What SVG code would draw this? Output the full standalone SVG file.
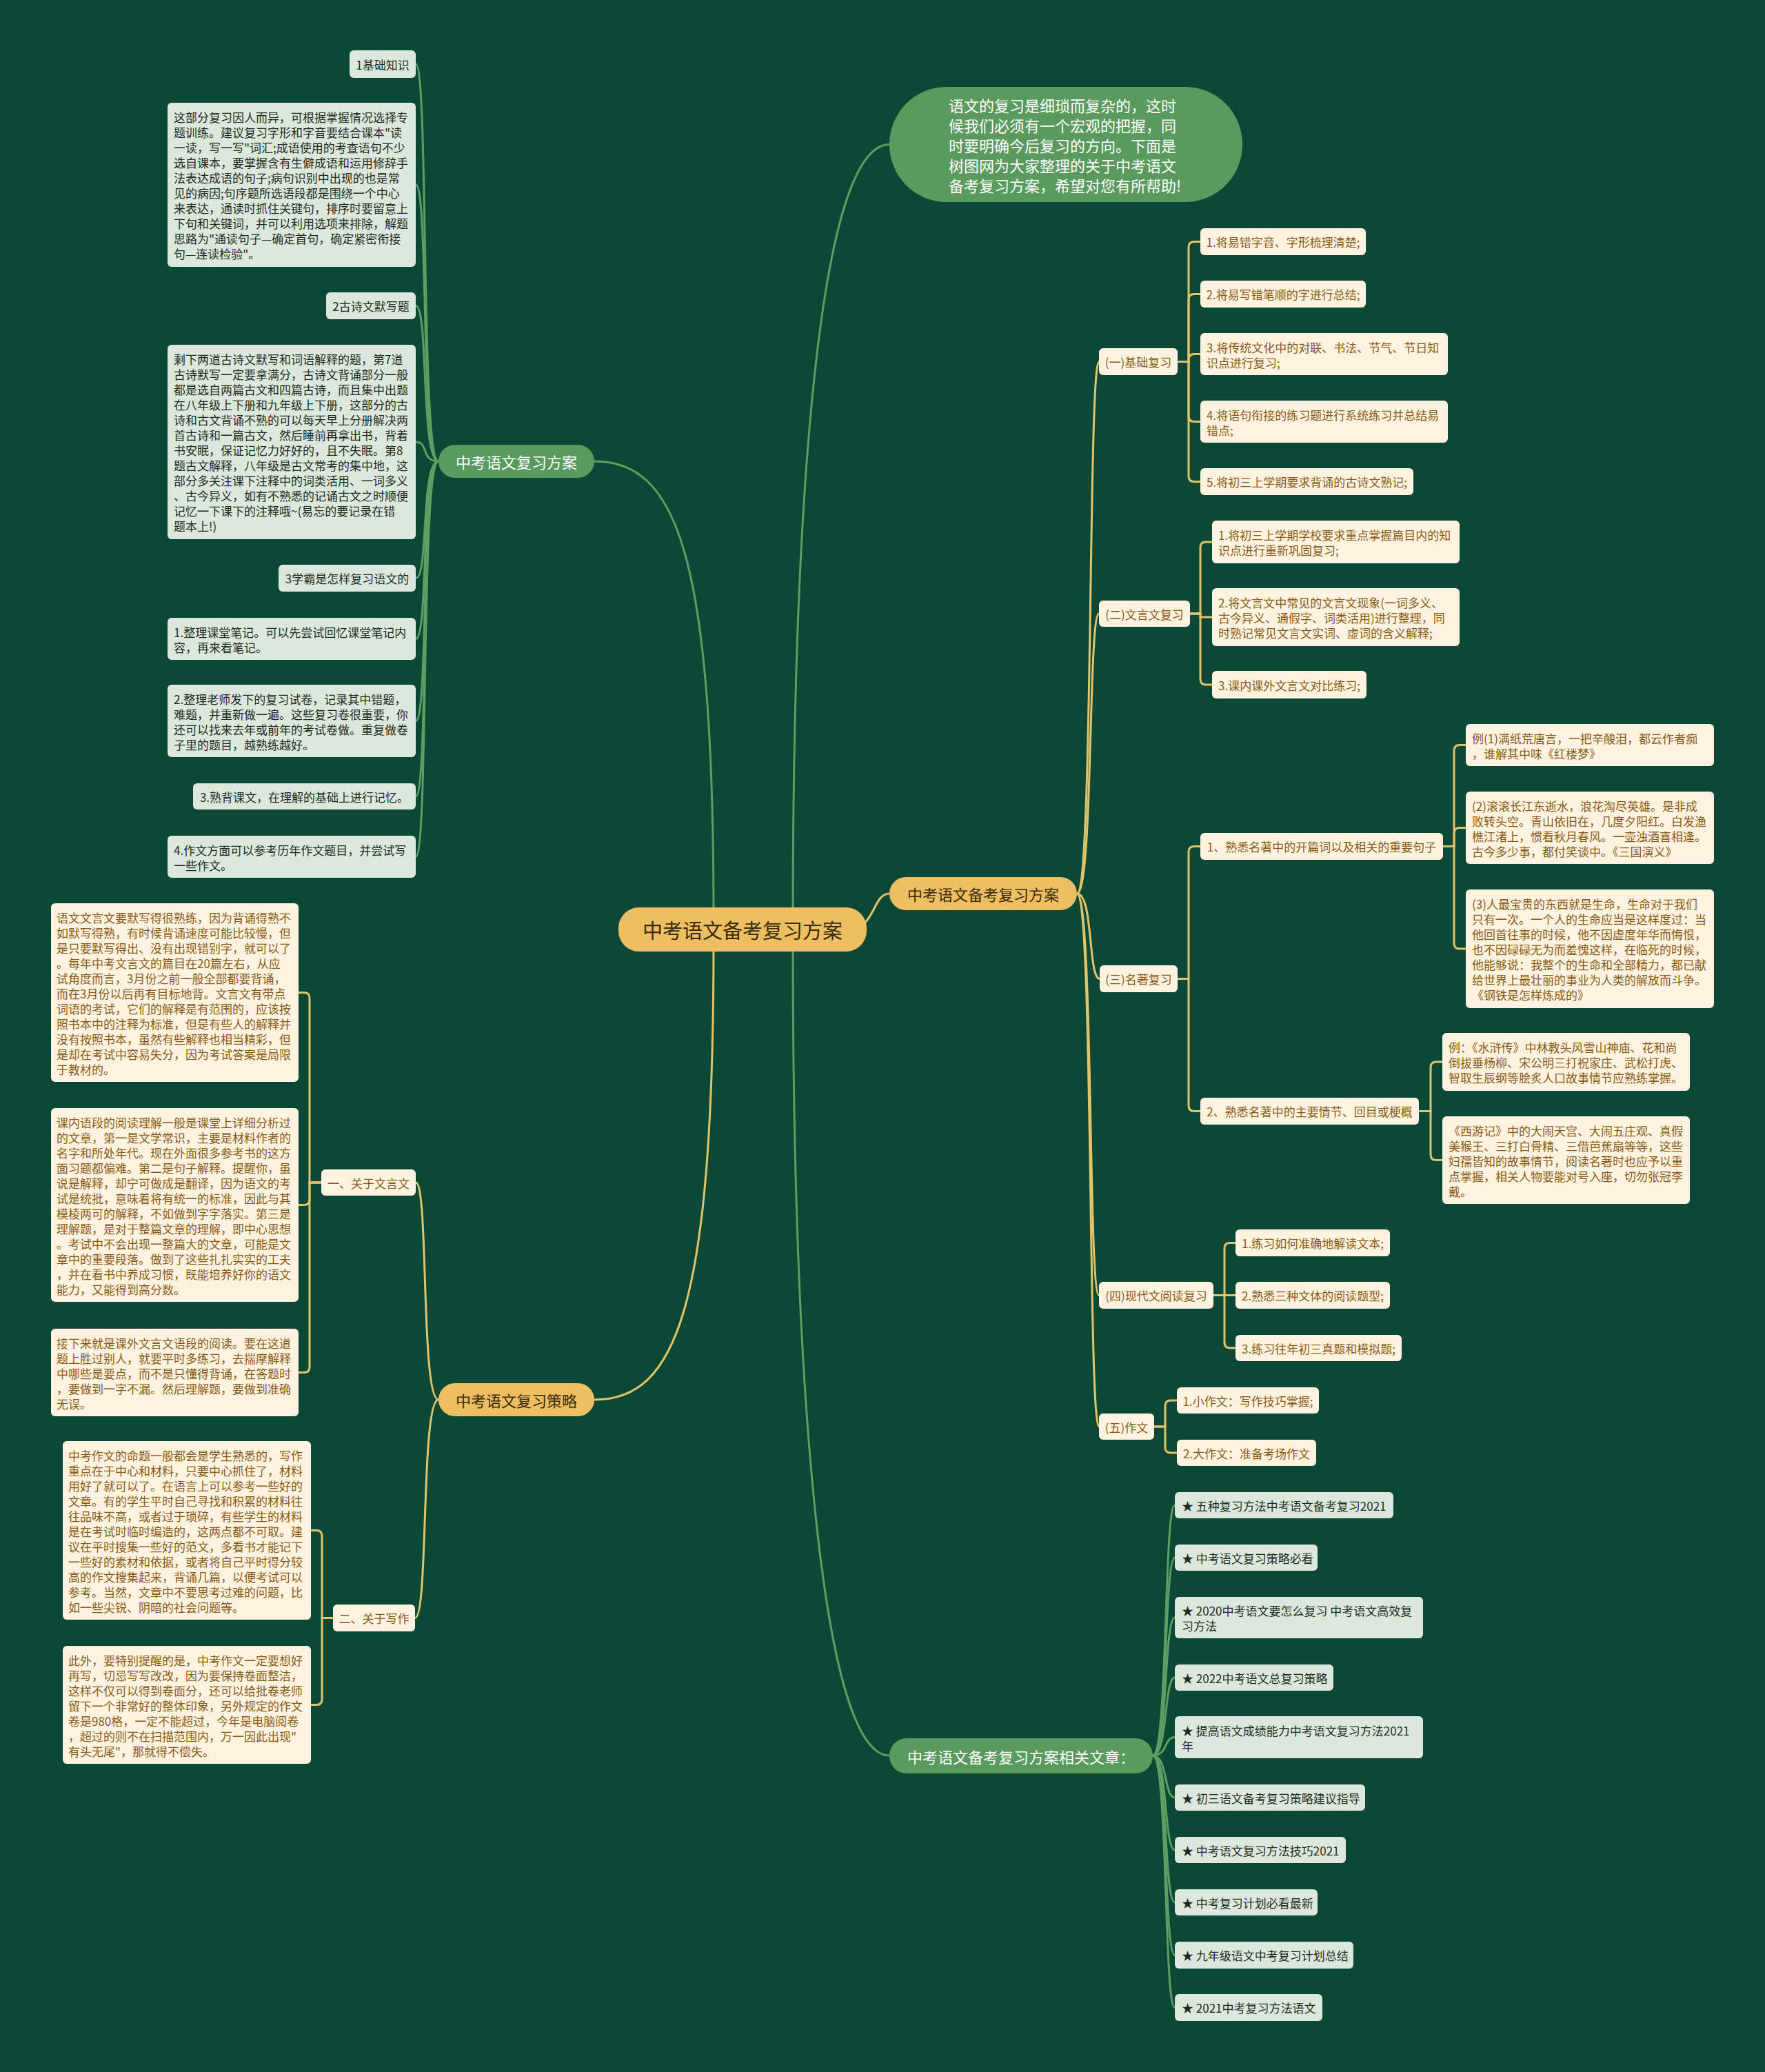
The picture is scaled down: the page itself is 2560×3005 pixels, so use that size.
<svg xmlns="http://www.w3.org/2000/svg" width="2560" height="3005" viewBox="0 0 2560 3005">
<style>
text,tspan{font-family:'Noto Sans CJK SC','Noto Sans',sans-serif;dominant-baseline:central}
.lg{fill:#DCE8DC}
.cr{fill:#FDF3E0}
.tl{font-size:17px;fill:#1E2B23}
.tc{font-size:17px;fill:#8A5A14}
.m{text-anchor:middle}
.cg{stroke:#5E9E62;stroke-width:3;fill:none}
.cy{stroke:#E2C36A;stroke-width:3;fill:none}
.gp{fill:#5A9A5E}
.yp{fill:#EDBE62}
.tw{font-size:22px;fill:#FFFFFF}
.tb{font-size:22px;fill:#3A2A08}
</style>
<rect x="0" y="0" width="2560" height="3005" fill="#0B4936"/>

<g id="connectors">
  <!-- root to branches -->
  <path class="cg" d="M1035,1330 C1035,800 980,669 862,669"/>
  <path class="cy" d="M1035,1366 C1035,1900 980,2030 862,2030"/>
  <path class="cg" d="M1150,1340 C1150,700 1190,209.5 1290,209.5"/>
  <path class="cy" d="M1230,1348 C1270,1348 1265,1296 1290,1296"/>
  <path class="cg" d="M1150,1366 C1150,2000 1190,2546 1290,2546"/>
  <!-- left green branch -->
  <path class="cg" d="M636,669 C610,669 622,93 603,93"/>
  <path class="cg" d="M636,669 C610,669 622,268 603,268"/>
  <path class="cg" d="M636,669 C610,669 622,443.5 603,443.5"/>
  <path class="cg" d="M636,669 C610,669 622,641 603,641"/>
  <path class="cg" d="M636,669 C610,669 622,838.5 603,838.5"/>
  <path class="cg" d="M636,669 C610,669 622,926.5 603,926.5"/>
  <path class="cg" d="M636,669 C610,669 622,1045.5 603,1045.5"/>
  <path class="cg" d="M636,669 C610,669 622,1155 603,1155"/>
  <path class="cg" d="M636,669 C610,669 622,1242.5 603,1242.5"/>
  <!-- left gold branch -->
  <path class="cy" d="M636,2030 C610,2030 622,1715 603,1715"/>
  <path class="cy" d="M636,2030 C610,2030 622,2346.5 602,2346.5"/>
  <path class="cy" d="M466,1715 H449 V1447.5 Q449,1439.5 441,1439.5 H433"/>
  <path class="cy" d="M466,1715 H449 V1739.5 Q449,1747.5 441,1747.5 H433"/>
  <path class="cy" d="M466,1715 H449 V1982.5 Q449,1990.5 441,1990.5 H433"/>
  <path class="cy" d="M483,2346.5 H467 V2227.5 Q467,2219.5 459,2219.5 H451"/>
  <path class="cy" d="M483,2346.5 H467 V2464.5 Q467,2472.5 459,2472.5 H451"/>
  <!-- right gold branch -->
  <path class="cy" d="M1562,1296 C1586,1296 1578,524.5 1594,524.5"/>
  <path class="cy" d="M1562,1296 C1586,1296 1578,890 1594,890"/>
  <path class="cy" d="M1562,1296 C1586,1296 1578,1419.5 1595,1419.5"/>
  <path class="cy" d="M1562,1296 C1586,1296 1578,1878.5 1594,1878.5"/>
  <path class="cy" d="M1562,1296 C1586,1296 1578,2069 1594,2069"/>
  <path class="cy" d="M1708,524.5 H1724 V358.5 Q1724,350.5 1732,350.5 H1741"/>
  <path class="cy" d="M1708,524.5 H1724 V434.5 Q1724,426.5 1732,426.5 H1741"/>
  <path class="cy" d="M1708,524.5 H1724 V521.5 Q1724,513.5 1732,513.5 H1741"/>
  <path class="cy" d="M1708,524.5 H1724 V603.5 Q1724,611.5 1732,611.5 H1741"/>
  <path class="cy" d="M1708,524.5 H1724 V690.5 Q1724,698.5 1732,698.5 H1741"/>
  <path class="cy" d="M1726,890 H1741 V794 Q1741,786 1749,786 H1758"/>
  <path class="cy" d="M1726,890 H1741 V895 H1758"/>
  <path class="cy" d="M1726,890 H1741 V985 Q1741,993 1749,993 H1758"/>
  <path class="cy" d="M1708,1419.5 H1724 V1235.5 Q1724,1227.5 1732,1227.5 H1741"/>
  <path class="cy" d="M1708,1419.5 H1724 V1603.5 Q1724,1611.5 1732,1611.5 H1741"/>
  <path class="cy" d="M2093,1227.5 H2109 V1088.5 Q2109,1080.5 2117,1080.5 H2126"/>
  <path class="cy" d="M2093,1227.5 H2109 V1208.5 Q2109,1200.5 2117,1200.5 H2126"/>
  <path class="cy" d="M2093,1227.5 H2109 V1368 Q2109,1376 2117,1376 H2126"/>
  <path class="cy" d="M2058,1611.5 H2075 V1548 Q2075,1540 2083,1540 H2092"/>
  <path class="cy" d="M2058,1611.5 H2075 V1674.5 Q2075,1682.5 2083,1682.5 H2092"/>
  <path class="cy" d="M1760,1878.5 H1776 V1810.5 Q1776,1802.5 1784,1802.5 H1792"/>
  <path class="cy" d="M1760,1878.5 H1792"/>
  <path class="cy" d="M1760,1878.5 H1776 V1947 Q1776,1955 1784,1955 H1792"/>
  <path class="cy" d="M1674,2069 H1690 V2039 Q1690,2031 1698,2031 H1707"/>
  <path class="cy" d="M1674,2069 H1690 V2099 Q1690,2107 1698,2107 H1707"/>
  <!-- related articles -->
  <path class="cg" d="M1672,2546 C1694,2546 1688,2183 1704,2183"/>
  <path class="cg" d="M1672,2546 C1694,2546 1688,2259 1704,2259"/>
  <path class="cg" d="M1672,2546 C1694,2546 1688,2346 1704,2346"/>
  <path class="cg" d="M1672,2546 C1694,2546 1688,2433 1704,2433"/>
  <path class="cg" d="M1672,2546 C1694,2546 1688,2519.5 1704,2519.5"/>
  <path class="cg" d="M1672,2546 C1694,2546 1688,2607 1704,2607"/>
  <path class="cg" d="M1672,2546 C1694,2546 1688,2683 1704,2683"/>
  <path class="cg" d="M1672,2546 C1694,2546 1688,2759 1704,2759"/>
  <path class="cg" d="M1672,2546 C1694,2546 1688,2835.5 1704,2835.5"/>
  <path class="cg" d="M1672,2546 C1694,2546 1688,2911.5 1704,2911.5"/>
</g>

<g id="root">
  <rect class="yp" x="897" y="1316" width="360" height="64" rx="30"/>
  <text x="1077" y="1348" class="m" font-size="29" fill="#3A2A08">中考语文备考复习方案</text>
</g>

<g id="b-plan">
  <rect class="gp" x="636" y="645" width="226" height="48" rx="24"/>
  <text x="749" y="669" class="m tw">中考语文复习方案</text>
</g>
<g id="b-strategy">
  <rect class="yp" x="636" y="2006" width="226" height="48" rx="24"/>
  <text x="749" y="2030" class="m tb">中考语文复习策略</text>
</g>
<g id="b-intro">
  <rect class="gp" x="1290" y="126" width="512" height="167" rx="83"/>
  <text class="tw"><tspan x="1376" y="151.5">语文的复习是细琐而复杂的，这时</tspan><tspan x="1376" y="180.7">候我们必须有一个宏观的把握，同</tspan><tspan x="1376" y="209.9">时要明确今后复习的方向。下面是</tspan><tspan x="1376" y="239.1">树图网为大家整理的关于中考语文</tspan><tspan x="1376" y="268.3">备考复习方案，希望对您有所帮助!</tspan></text>
</g>
<g id="b-prep">
  <rect class="yp" x="1290" y="1272" width="272" height="48" rx="24"/>
  <text x="1426" y="1296" class="m tb">中考语文备考复习方案</text>
</g>
<g id="b-related">
  <rect class="gp" x="1290" y="2521" width="382" height="51" rx="25"/>
  <text x="1481" y="2546.5" class="m tw">中考语文备考复习方案相关文章：</text>
</g>

<!-- left green children -->
<g id="n1"><rect class="lg" x="507" y="73" width="96" height="40" rx="6"/><text x="555" y="93" class="m tl">1基础知识</text></g>
<g id="n2"><rect class="lg" x="243" y="149" width="360" height="238" rx="6"/><text class="tl"><tspan x="252" y="169">这部分复习因人而异，可根据掌握情况选择专</tspan><tspan x="252" y="191">题训练。建议复习字形和字音要结合课本"读</tspan><tspan x="252" y="213">一读，写一写"词汇;成语使用的考查语句不少</tspan><tspan x="252" y="235">选自课本，要掌握含有生僻成语和运用修辞手</tspan><tspan x="252" y="257">法表达成语的句子;病句识别中出现的也是常</tspan><tspan x="252" y="279">见的病因;句序题所选语段都是围绕一个中心</tspan><tspan x="252" y="301">来表达，通读时抓住关键句，排序时要留意上</tspan><tspan x="252" y="323">下句和关键词，并可以利用选项来排除，解题</tspan><tspan x="252" y="345">思路为"通读句子—确定首句，确定紧密衔接</tspan><tspan x="252" y="367">句—连读检验"。</tspan></text></g>
<g id="n3"><rect class="lg" x="473" y="424" width="130" height="39" rx="6"/><text x="538" y="443.5" class="m tl">2古诗文默写题</text></g>
<g id="n4"><rect class="lg" x="243" y="500" width="360" height="282" rx="6"/><text class="tl"><tspan x="252" y="520">剩下两道古诗文默写和词语解释的题，第7道</tspan><tspan x="252" y="542">古诗默写一定要拿满分，古诗文背诵部分一般</tspan><tspan x="252" y="564">都是选自两篇古文和四篇古诗，而且集中出题</tspan><tspan x="252" y="586">在八年级上下册和九年级上下册，这部分的古</tspan><tspan x="252" y="608">诗和古文背诵不熟的可以每天早上分册解决两</tspan><tspan x="252" y="630">首古诗和一篇古文，然后睡前再拿出书，背着</tspan><tspan x="252" y="652">书安眠，保证记忆力好好的，且不失眠。第8</tspan><tspan x="252" y="674">题古文解释，八年级是古文常考的集中地，这</tspan><tspan x="252" y="696">部分多关注课下注释中的词类活用、一词多义</tspan><tspan x="252" y="718">、古今异义，如有不熟悉的记诵古文之时顺便</tspan><tspan x="252" y="740">记忆一下课下的注释哦~(易忘的要记录在错</tspan><tspan x="252" y="762">题本上!)</tspan></text></g>
<g id="n5"><rect class="lg" x="404" y="819" width="199" height="39" rx="6"/><text x="503.5" y="838.5" class="m tl">3学霸是怎样复习语文的</text></g>
<g id="n6"><rect class="lg" x="243" y="896" width="360" height="61" rx="6"/><text class="tl"><tspan x="252" y="915.5">1.整理课堂笔记。可以先尝试回忆课堂笔记内</tspan><tspan x="252" y="937.5">容，再来看笔记。</tspan></text></g>
<g id="n7"><rect class="lg" x="243" y="993" width="360" height="105" rx="6"/><text class="tl"><tspan x="252" y="1012.5">2.整理老师发下的复习试卷，记录其中错题，</tspan><tspan x="252" y="1034.5">难题，并重新做一遍。这些复习卷很重要，你</tspan><tspan x="252" y="1056.5">还可以找来去年或前年的考试卷做。重复做卷</tspan><tspan x="252" y="1078.5">子里的题目，越熟练越好。</tspan></text></g>
<g id="n8"><rect class="lg" x="280" y="1136" width="323" height="38" rx="6"/><text x="441.5" y="1155" class="m tl">3.熟背课文，在理解的基础上进行记忆。</text></g>
<g id="n9"><rect class="lg" x="243" y="1212" width="360" height="61" rx="6"/><text class="tl"><tspan x="252" y="1231.5">4.作文方面可以参考历年作文题目，并尝试写</tspan><tspan x="252" y="1253.5">一些作文。</tspan></text></g>

<!-- left gold children -->
<g id="s1"><rect class="cr" x="466" y="1696" width="137" height="38" rx="6"/><text x="534.5" y="1715" class="m tc">一、关于文言文</text></g>
<g id="s2"><rect class="cr" x="483" y="2327" width="119" height="39" rx="6"/><text x="542.5" y="2346.5" class="m tc">二、关于写作</text></g>
<g id="sa"><rect class="cr" x="74" y="1310" width="359" height="259" rx="6"/><text class="tc"><tspan x="82" y="1329.5">语文文言文要默写得很熟练，因为背诵得熟不</tspan><tspan x="82" y="1351.5">如默写得熟，有时候背诵速度可能比较慢，但</tspan><tspan x="82" y="1373.5">是只要默写得出、没有出现错别字，就可以了</tspan><tspan x="82" y="1395.5">。每年中考文言文的篇目在20篇左右，从应</tspan><tspan x="82" y="1417.5">试角度而言，3月份之前一般全部都要背诵，</tspan><tspan x="82" y="1439.5">而在3月份以后再有目标地背。文言文有带点</tspan><tspan x="82" y="1461.5">词语的考试，它们的解释是有范围的，应该按</tspan><tspan x="82" y="1483.5">照书本中的注释为标准，但是有些人的解释并</tspan><tspan x="82" y="1505.5">没有按照书本，虽然有些解释也相当精彩，但</tspan><tspan x="82" y="1527.5">是却在考试中容易失分，因为考试答案是局限</tspan><tspan x="82" y="1549.5">于教材的。</tspan></text></g>
<g id="sb"><rect class="cr" x="74" y="1607" width="359" height="281" rx="6"/><text class="tc"><tspan x="82" y="1626.5">课内语段的阅读理解一般是课堂上详细分析过</tspan><tspan x="82" y="1648.5">的文章，第一是文学常识，主要是材料作者的</tspan><tspan x="82" y="1670.5">名字和所处年代。现在外面很多参考书的这方</tspan><tspan x="82" y="1692.5">面习题都偏难。第二是句子解释。提醒你，虽</tspan><tspan x="82" y="1714.5">说是解释，却宁可做成是翻译，因为语文的考</tspan><tspan x="82" y="1736.5">试是统批，意味着将有统一的标准，因此与其</tspan><tspan x="82" y="1758.5">模棱两可的解释，不如做到字字落实。第三是</tspan><tspan x="82" y="1780.5">理解题，是对于整篇文章的理解，即中心思想</tspan><tspan x="82" y="1802.5">。考试中不会出现一整篇大的文章，可能是文</tspan><tspan x="82" y="1824.5">章中的重要段落。做到了这些扎扎实实的工夫</tspan><tspan x="82" y="1846.5">，并在看书中养成习惯，既能培养好你的语文</tspan><tspan x="82" y="1868.5">能力，又能得到高分数。</tspan></text></g>
<g id="sc"><rect class="cr" x="74" y="1927" width="359" height="127" rx="6"/><text class="tc"><tspan x="82" y="1946.5">接下来就是课外文言文语段的阅读。要在这道</tspan><tspan x="82" y="1968.5">题上胜过别人，就要平时多练习，去揣摩解释</tspan><tspan x="82" y="1990.5">中哪些是要点，而不是只懂得背诵，在答题时</tspan><tspan x="82" y="2012.5">，要做到一字不漏。然后理解题，要做到准确</tspan><tspan x="82" y="2034.5">无误。</tspan></text></g>
<g id="sd"><rect class="cr" x="91" y="2090" width="360" height="259" rx="6"/><text class="tc"><tspan x="99" y="2109.5">中考作文的命题一般都会是学生熟悉的，写作</tspan><tspan x="99" y="2131.5">重点在于中心和材料，只要中心抓住了，材料</tspan><tspan x="99" y="2153.5">用好了就可以了。在语言上可以参考一些好的</tspan><tspan x="99" y="2175.5">文章。有的学生平时自己寻找和积累的材料往</tspan><tspan x="99" y="2197.5">往品味不高，或者过于琐碎，有些学生的材料</tspan><tspan x="99" y="2219.5">是在考试时临时编造的，这两点都不可取。建</tspan><tspan x="99" y="2241.5">议在平时搜集一些好的范文，多看书才能记下</tspan><tspan x="99" y="2263.5">一些好的素材和依据，或者将自己平时得分较</tspan><tspan x="99" y="2285.5">高的作文搜集起来，背诵几篇，以便考试可以</tspan><tspan x="99" y="2307.5">参考。当然，文章中不要思考过难的问题，比</tspan><tspan x="99" y="2329.5">如一些尖锐、阴暗的社会问题等。</tspan></text></g>
<g id="se"><rect class="cr" x="91" y="2387" width="360" height="171" rx="6"/><text class="tc"><tspan x="99" y="2406.5">此外，要特别提醒的是，中考作文一定要想好</tspan><tspan x="99" y="2428.5">再写，切忌写写改改，因为要保持卷面整洁，</tspan><tspan x="99" y="2450.5">这样不仅可以得到卷面分，还可以给批卷老师</tspan><tspan x="99" y="2472.5">留下一个非常好的整体印象，另外规定的作文</tspan><tspan x="99" y="2494.5">卷是980格，一定不能超过，今年是电脑阅卷</tspan><tspan x="99" y="2516.5">，超过的则不在扫描范围内，万一因此出现"</tspan><tspan x="99" y="2538.5">有头无尾"，那就得不偿失。</tspan></text></g>

<!-- right gold children -->
<g id="p1"><rect class="cr" x="1594" y="505" width="114" height="39" rx="6"/><text x="1651" y="524.5" class="m tc">(一)基础复习</text></g>
<g id="p2"><rect class="cr" x="1594" y="871" width="132" height="38" rx="6"/><text x="1660" y="890" class="m tc">(二)文言文复习</text></g>
<g id="p3"><rect class="cr" x="1595" y="1400" width="113" height="39" rx="6"/><text x="1651.5" y="1419.5" class="m tc">(三)名著复习</text></g>
<g id="p4"><rect class="cr" x="1594" y="1859" width="166" height="39" rx="6"/><text x="1677" y="1878.5" class="m tc">(四)现代文阅读复习</text></g>
<g id="p5"><rect class="cr" x="1594" y="2050" width="80" height="38" rx="6"/><text x="1634" y="2069" class="m tc">(五)作文</text></g>

<g id="c1"><rect class="cr" x="1741" y="331" width="240" height="39" rx="6"/><text x="1861" y="350.5" class="m tc">1.将易错字音、字形梳理清楚;</text></g>
<g id="c2"><rect class="cr" x="1741" y="407" width="240" height="39" rx="6"/><text x="1861" y="426.5" class="m tc">2.将易写错笔顺的字进行总结;</text></g>
<g id="c3"><rect class="cr" x="1741" y="483" width="359" height="61" rx="6"/><text class="tc"><tspan x="1750" y="502.5">3.将传统文化中的对联、书法、节气、节日知</tspan><tspan x="1750" y="524.5">识点进行复习;</tspan></text></g>
<g id="c4"><rect class="cr" x="1741" y="581" width="359" height="61" rx="6"/><text class="tc"><tspan x="1750" y="600.5">4.将语句衔接的练习题进行系统练习并总结易</tspan><tspan x="1750" y="622.5">错点;</tspan></text></g>
<g id="c5"><rect class="cr" x="1741" y="679" width="309" height="39" rx="6"/><text x="1895.5" y="698.5" class="m tc">5.将初三上学期要求背诵的古诗文熟记;</text></g>

<g id="d1"><rect class="cr" x="1758" y="755" width="359" height="62" rx="6"/><text class="tc"><tspan x="1767" y="775">1.将初三上学期学校要求重点掌握篇目内的知</tspan><tspan x="1767" y="797">识点进行重新巩固复习;</tspan></text></g>
<g id="d2"><rect class="cr" x="1758" y="853" width="359" height="84" rx="6"/><text class="tc"><tspan x="1767" y="873">2.将文言文中常见的文言文现象(一词多义、</tspan><tspan x="1767" y="895">古今异义、通假字、词类活用)进行整理，同</tspan><tspan x="1767" y="917">时熟记常见文言文实词、虚词的含义解释;</tspan></text></g>
<g id="d3"><rect class="cr" x="1758" y="973" width="224" height="40" rx="6"/><text x="1870" y="993" class="m tc">3.课内课外文言文对比练习;</text></g>

<g id="e1"><rect class="cr" x="1741" y="1208" width="352" height="39" rx="6"/><text x="1917" y="1227.5" class="m tc">1、熟悉名著中的开篇词以及相关的重要句子</text></g>
<g id="e2"><rect class="cr" x="1741" y="1592" width="317" height="39" rx="6"/><text x="1899.5" y="1611.5" class="m tc">2、熟悉名著中的主要情节、回目或梗概</text></g>
<g id="f1"><rect class="cr" x="2126" y="1050" width="360" height="61" rx="6"/><text class="tc"><tspan x="2135" y="1069.5">例(1)满纸荒唐言，一把辛酸泪，都云作者痴</tspan><tspan x="2135" y="1091.5">，谁解其中味《红楼梦》</tspan></text></g>
<g id="f2"><rect class="cr" x="2126" y="1148" width="360" height="105" rx="6"/><text class="tc"><tspan x="2135" y="1167.5">(2)滚滚长江东逝水，浪花淘尽英雄。是非成</tspan><tspan x="2135" y="1189.5">败转头空。青山依旧在，几度夕阳红。白发渔</tspan><tspan x="2135" y="1211.5">樵江渚上，惯看秋月春风。一壶浊酒喜相逢。</tspan><tspan x="2135" y="1233.5">古今多少事，都付笑谈中。《三国演义》</tspan></text></g>
<g id="f3"><rect class="cr" x="2126" y="1290" width="360" height="172" rx="6"/><text class="tc"><tspan x="2135" y="1310">(3)人最宝贵的东西就是生命，生命对于我们</tspan><tspan x="2135" y="1332">只有一次。一个人的生命应当是这样度过：当</tspan><tspan x="2135" y="1354">他回首往事的时候，他不因虚度年华而悔恨，</tspan><tspan x="2135" y="1376">也不因碌碌无为而羞愧这样，在临死的时候，</tspan><tspan x="2135" y="1398">他能够说：我整个的生命和全部精力，都已献</tspan><tspan x="2135" y="1420">给世界上最壮丽的事业为人类的解放而斗争。</tspan><tspan x="2135" y="1442">《钢铁是怎样炼成的》</tspan></text></g>
<g id="g1"><rect class="cr" x="2092" y="1498" width="359" height="84" rx="6"/><text class="tc"><tspan x="2101" y="1518">例：《水浒传》中林教头风雪山神庙、花和尚</tspan><tspan x="2101" y="1540">倒拔垂杨柳、宋公明三打祝家庄、武松打虎、</tspan><tspan x="2101" y="1562">智取生辰纲等脍炙人口故事情节应熟练掌握。</tspan></text></g>
<g id="g2"><rect class="cr" x="2092" y="1619" width="359" height="127" rx="6"/><text class="tc"><tspan x="2101" y="1638.5">《西游记》中的大闹天宫、大闹五庄观、真假</tspan><tspan x="2101" y="1660.5">美猴王、三打白骨精、三借芭蕉扇等等，这些</tspan><tspan x="2101" y="1682.5">妇孺皆知的故事情节，阅读名著时也应予以重</tspan><tspan x="2101" y="1704.5">点掌握，相关人物要能对号入座，切勿张冠李</tspan><tspan x="2101" y="1726.5">戴。</tspan></text></g>

<g id="h1"><rect class="cr" x="1792" y="1783" width="224" height="39" rx="6"/><text x="1904" y="1802.5" class="m tc">1.练习如何准确地解读文本;</text></g>
<g id="h2"><rect class="cr" x="1792" y="1859" width="224" height="39" rx="6"/><text x="1904" y="1878.5" class="m tc">2.熟悉三种文体的阅读题型;</text></g>
<g id="h3"><rect class="cr" x="1792" y="1936" width="241" height="38" rx="6"/><text x="1912.5" y="1955" class="m tc">3.练习往年初三真题和模拟题;</text></g>
<g id="i1"><rect class="cr" x="1707" y="2012" width="206" height="38" rx="6"/><text x="1810" y="2031" class="m tc">1.小作文：写作技巧掌握;</text></g>
<g id="i2"><rect class="cr" x="1707" y="2088" width="202" height="38" rx="6"/><text x="1808" y="2107" class="m tc">2.大作文：准备考场作文</text></g>

<!-- related articles -->
<g id="r1"><rect class="lg" x="1704" y="2164" width="317" height="38" rx="6"/><text x="1714" y="2183" class="tl">★ 五种复习方法中考语文备考复习2021</text></g>
<g id="r2"><rect class="lg" x="1704" y="2240" width="207" height="38" rx="6"/><text x="1714" y="2259" class="tl">★ 中考语文复习策略必看</text></g>
<g id="r3"><rect class="lg" x="1704" y="2316" width="360" height="60" rx="6"/><text class="tl"><tspan x="1714" y="2335">★ 2020中考语文要怎么复习 中考语文高效复</tspan><tspan x="1714" y="2357">习方法</tspan></text></g>
<g id="r4"><rect class="lg" x="1704" y="2414" width="230" height="38" rx="6"/><text x="1714" y="2433" class="tl">★ 2022中考语文总复习策略</text></g>
<g id="r5"><rect class="lg" x="1704" y="2489" width="360" height="61" rx="6"/><text class="tl"><tspan x="1714" y="2508.5">★ 提高语文成绩能力中考语文复习方法2021</tspan><tspan x="1714" y="2530.5">年</tspan></text></g>
<g id="r6"><rect class="lg" x="1704" y="2588" width="276" height="38" rx="6"/><text x="1714" y="2607" class="tl">★ 初三语文备考复习策略建议指导</text></g>
<g id="r7"><rect class="lg" x="1704" y="2664" width="248" height="38" rx="6"/><text x="1714" y="2683" class="tl">★ 中考语文复习方法技巧2021</text></g>
<g id="r8"><rect class="lg" x="1704" y="2740" width="207" height="38" rx="6"/><text x="1714" y="2759" class="tl">★ 中考复习计划必看最新</text></g>
<g id="r9"><rect class="lg" x="1704" y="2816" width="259" height="39" rx="6"/><text x="1714" y="2835.5" class="tl">★ 九年级语文中考复习计划总结</text></g>
<g id="r10"><rect class="lg" x="1704" y="2892" width="214" height="39" rx="6"/><text x="1714" y="2911.5" class="tl">★ 2021中考复习方法语文</text></g>
</svg>
